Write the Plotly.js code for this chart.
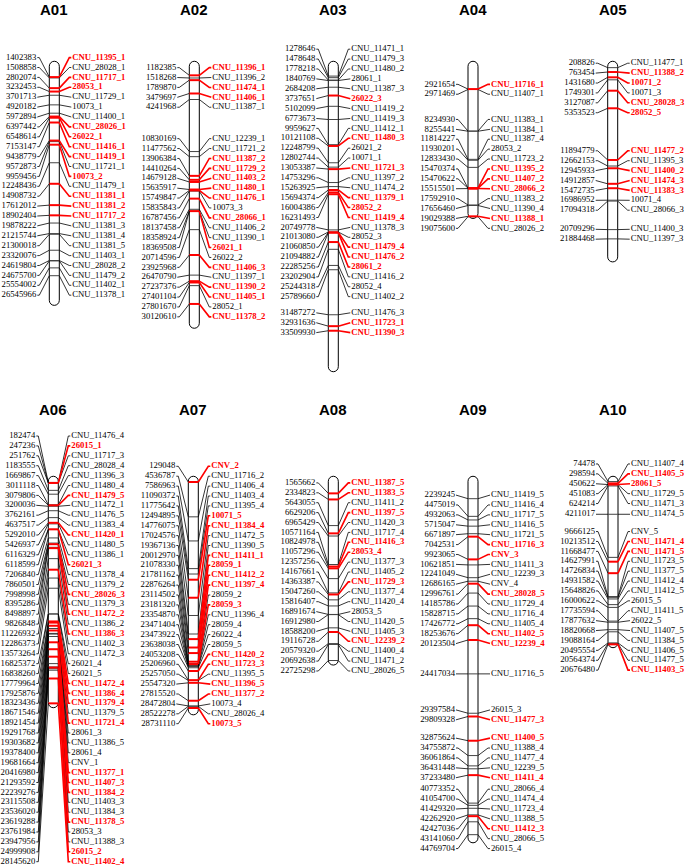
<!DOCTYPE html>
<html><head><meta charset="utf-8">
<script src="https://cdn.plot.ly/plotly-3.0.1.min.js"></script>
<style>html,body{margin:0;padding:0;background:#fff}</style>
</head><body><div id="chart" style="width:685px;height:866px"></div>
<script>
// ---------------- DATA ----------------
const chromNames = ['A01','A02','A03','A04','A05','A06','A07','A08','A09','A10'];
const chromLength = [30.3, 33.2, 38.7, 19.3, 24.8, 28.7, 29.6, 23.3, 45.8, 21.1]; // Mb (estimated)

const A01_pos = [1402383,1508858,2802074,3232453,3701713,4920182,5972894,6397442,6548614,7153147,9438779,9572873,9959456,12248436,14908732,17612012,18902404,19878222,21215744,21300018,23320076,24619804,24675700,25554002,26545966];
const A01_loci = ['CNU_11395_1','CNU_28028_1','CNU_11717_1','28053_1','CNU_11729_1','10073_1','CNU_11400_1','CNU_28026_1','26022_1','CNU_11416_1','CNU_11419_1','CNU_11721_1','10073_2','CNU_11479_1','CNU_11381_1','CNU_11381_2','CNU_11717_2','CNU_11381_3','CNU_11381_4','CNU_11381_5','CNU_11403_1','CNU_28028_2','CNU_11479_2','CNU_11402_1','CNU_11378_1'];
const A01_red = [1,0,1,1,0,0,0,1,1,1,1,0,1,0,1,1,1,0,0,0,0,0,0,0,0];

const A02_pos = [1182385,1518268,1789870,3479697,4241968,10830169,11477562,13906384,14410264,14679128,15635917,15749847,15835843,16787456,18137458,18358924,18369508,20714596,23925968,26470790,27237376,27401104,27801670,30120610];
const A02_loci = ['CNU_11396_1','CNU_11396_2','CNU_11474_1','CNU_11406_1','CNU_11387_1','CNU_12239_1','CNU_11721_2','CNU_11387_2','CNU_11729_2','CNU_11403_2','CNU_11480_1','CNU_11476_1','10073_3','CNU_28066_1','CNU_11406_2','CNU_11390_1','26021_1','26022_2','CNU_11406_3','CNU_11397_1','CNU_11390_2','CNU_11405_1','28052_1','CNU_11378_2'];
const A02_red = [1,0,1,1,0,0,0,1,1,1,1,1,0,1,0,0,1,0,1,0,1,1,0,1];

const A03_pos = [1278646,1478648,1778218,1840769,2684208,3737651,5102099,6773673,9959627,10121108,12248799,12802744,13053387,14753296,15263925,15694374,16004386,16231493,20749778,21013080,21060850,21094882,22285256,23202904,25244318,25789660,31487272,32931636,33509930];
const A03_loci = ['CNU_11471_1','CNU_11479_3','CNU_11480_2','28061_1','CNU_11387_3','26022_3','CNU_11419_2','CNU_11419_3','CNU_11412_1','CNU_11480_3','26021_2','10071_1','CNU_11721_3','CNU_11397_2','CNU_11474_2','CNU_11379_1','28052_2','CNU_11419_4','CNU_11378_3','28052_3','CNU_11479_4','CNU_11476_2','28061_2','CNU_11416_2','28052_4','CNU_11402_2','CNU_11476_3','CNU_11723_1','CNU_11390_3'];
const A03_red = [0,0,0,0,0,1,0,0,0,1,0,0,1,0,0,1,1,1,0,0,1,1,1,0,0,0,0,1,1];

const A04_pos = [2921654,2971469,8234930,8255441,11814227,11930201,12833430,15470374,15470622,15515501,17592910,17656460,19029388,19075600];
const A04_loci = ['CNU_11716_1','CNU_11407_1','CNU_11383_1','CNU_11384_1','CNU_11387_4','28053_2','CNU_11723_2','CNU_11395_2','CNU_11407_2','CNU_28066_2','CNU_11383_2','CNU_11390_4','CNU_11388_1','CNU_28026_2'];
const A04_red = [1,0,0,0,0,0,0,1,1,1,0,0,1,0];

const A05_pos = [208826,763454,1431680,1749301,3127087,5353523,11894779,12662153,12945933,14912857,15472735,16986952,17094318,20709296,21884468];
const A05_loci = ['CNU_11477_1','CNU_11388_2','10071_2','10071_3','CNU_28028_3','28052_5','CNU_11477_2','CNU_11395_3','CNU_11400_2','CNU_11474_3','CNU_11383_3','10071_4','CNU_28066_3','CNU_11400_3','CNU_11397_3'];
const A05_red = [0,1,1,0,1,1,1,0,1,1,1,0,0,0,0];

const A06_pos = [182474,247236,251762,1183555,1669867,3011118,3079806,3200036,3762161,4637517,5292010,5426937,6116329,6118599,7206840,7860501,7998998,8395286,8498897,9826848,11226932,12286373,13573264,16825372,16838260,17779964,17925876,18323436,18671546,18921454,19291768,19303682,19378400,19681664,20416980,21293592,22239276,23115508,23536020,23619288,23761984,23947956,24999908,28145620];
const A06_loci = ['CNU_11476_4','26015_1','CNU_11717_3','CNU_28028_4','CNU_11396_3','CNU_11480_4','CNU_11479_5','CNU_11472_1','CNU_11476_5','CNU_11383_4','CNU_11420_1','CNU_11480_5','CNU_11386_1','26021_3','CNU_11378_4','CNU_11379_2','CNU_28026_3','CNU_11379_3','CNU_11472_2','CNU_11386_2','CNU_11386_3','CNU_11402_3','CNU_11472_3','26021_4','26021_5','CNU_11472_4','CNU_11386_4','CNU_11379_4','CNU_11379_5','CNU_11721_4','28061_3','CNU_11386_5','28061_4','CNV_1','CNU_11377_1','CNU_11407_3','CNU_11384_2','CNU_11403_3','CNU_11384_3','CNU_11378_5','28053_3','CNU_11388_3','26015_2','CNU_11402_4'];
const A06_red = [0,1,0,0,0,0,1,0,0,0,1,0,0,1,0,0,1,0,1,0,1,0,0,0,0,1,1,1,0,1,0,0,0,0,1,1,1,0,0,1,0,0,1,1];

const A07_pos = [129048,4536787,7586963,11090372,11775642,12494895,14776075,17024576,19367136,20012970,21078330,21781162,22876264,23114502,23181320,23354870,23471404,23473922,23638038,24053208,25206960,25257050,25547320,27815520,28472804,28522278,28731110];
const A07_loci = ['CNV_2','CNU_11716_2','CNU_11406_4','CNU_11403_4','CNU_11395_4','10071_5','CNU_11384_4','CNU_11472_5','CNU_11390_5','CNU_11411_1','28059_1','CNU_11412_2','CNU_11397_4','28059_2','28059_3','CNU_11396_4','28059_4','26022_4','28059_5','CNU_11420_2','CNU_11723_3','CNU_11395_5','CNU_11396_5','CNU_11377_2','10073_4','CNU_28026_4','10073_5'];
const A07_red = [1,0,0,0,0,1,1,0,0,1,1,1,1,0,1,0,0,0,0,1,1,0,1,1,0,0,1];

const A08_pos = [1565662,2334823,5643055,6629206,6965429,10571164,10824978,11057296,12357256,14167661,14363387,15047260,15816407,16891674,16912980,18588200,19116728,20579320,20692638,22725298];
const A08_loci = ['CNU_11387_5','CNU_11383_5','CNU_11411_2','CNU_11397_5','CNU_11420_3','CNU_11717_4','CNU_11416_3','28053_4','CNU_11377_3','CNU_11405_2','CNU_11729_3','CNU_11377_4','CNU_11420_4','28053_5','CNU_11420_5','CNU_11405_3','CNU_12239_2','CNU_11400_4','CNU_11471_2','CNU_28026_5'];
const A08_red = [1,1,0,1,0,0,1,1,0,0,1,0,0,0,0,0,1,0,0,0];

const A09_pos = [2239245,4475019,4932063,5715047,6671897,7042531,9923065,10621851,12241049,12686165,12996761,14185786,15828715,17426772,18253676,20123504,24417034,29397584,29809328,32875624,34755872,36061864,36431448,37233480,40773352,41054700,41429320,42262920,42427036,43141060,44769704];
const A09_loci = ['CNU_11419_5','CNU_11416_4','CNU_11717_5','CNU_11416_5','CNU_11721_5','CNU_11716_3','CNV_3','CNU_11411_3','CNU_12239_3','CNV_4','CNU_28028_5','CNU_11729_4','CNU_11716_4','CNU_11405_4','CNU_11402_5','CNU_12239_4','CNU_11716_5','26015_3','CNU_11477_3','CNU_11400_5','CNU_11388_4','CNU_11477_4','CNU_12239_5','CNU_11411_4','CNU_28066_4','CNU_11474_4','CNU_11723_4','CNU_11388_5','CNU_11412_3','CNU_28066_5','26015_4'];
const A09_red = [0,0,0,0,0,1,1,0,0,0,1,0,0,0,1,1,0,0,1,1,0,0,0,1,0,0,0,0,1,0,0];

const A10_pos = [74478,298594,450622,451083,624214,4211017,9666125,10213512,11668477,14627991,14726834,14931582,15648826,16000622,17735594,17877632,18820668,19088164,20495554,20564374,20676480];
const A10_loci = ['CNU_11407_4','CNU_11405_5','28061_5','CNU_11729_5','CNU_11471_3','CNU_11474_5','CNV_5','CNU_11471_4','CNU_11471_5','CNU_11723_5','CNU_11377_5','CNU_11412_4','CNU_11412_5','26015_5','CNU_11411_5','26022_5','CNU_11407_5','CNU_11384_5','CNU_11406_5','CNU_11477_5','CNU_11403_5'];
const A10_red = [0,1,1,0,0,0,0,1,1,0,0,0,0,0,0,0,0,0,0,0,1];

// ---------------- LAYOUT / STYLE ----------------
const W = 685, H = 866;
const S = 7.9;            // px per Mb
const SP = 9.9;           // label spacing, px
const centerX = [54.3, 194.3, 333.3, 473, 612.7, 53.3, 193.3, 333.3, 473, 613];
const zeroY = [66, 481];   // px of 0 Mb per row
const labelMinTop = [20, 436];
const titleTop = [0, 400]; // px, top of title box
const HW = 5;             // chromosome half width px
const RED = '#ff0000';
const serif = 'Liberation Serif, Times New Roman, serif';

const chroms = [
  [A01_pos, A01_loci, A01_red], [A02_pos, A02_loci, A02_red], [A03_pos, A03_loci, A03_red],
  [A04_pos, A04_loci, A04_red], [A05_pos, A05_loci, A05_red], [A06_pos, A06_loci, A06_red],
  [A07_pos, A07_loci, A07_red], [A08_pos, A08_loci, A08_red], [A09_pos, A09_loci, A09_red],
  [A10_pos, A10_loci, A10_red]
];

function layoutLabels(desired, s, minTop) {
  let cl = desired.map(d => ({lo: d, hi: d, n: 1}));
  const top = c => Math.max(minTop, (c.lo + c.hi) / 2 - (c.n - 1) * s / 2);
  let merged = true;
  while (merged) {
    merged = false;
    for (let i = 0; i < cl.length - 1; i++) {
      const a = cl[i], b = cl[i + 1];
      if (top(b) < top(a) + a.n * s - 0.01) {
        cl.splice(i, 2, {lo: a.lo, hi: b.hi, n: a.n + b.n});
        merged = true; break;
      }
    }
  }
  const out = [];
  cl.forEach(c => { const t = top(c); for (let k = 0; k < c.n; k++) out.push(t + k * s); });
  return out;
}

const layout = {
  width: W, height: H, margin: {l: 0, r: 0, t: 0, b: 0},
  paper_bgcolor: '#ffffff', plot_bgcolor: 'rgba(0,0,0,0)',
  showlegend: false, shapes: [], annotations: [], hovermode: false
};
const traces = [];

chroms.forEach((ch, i) => {
  const [pos, loci, red] = ch;
  const k = i === 0 ? '' : String(i + 1);
  const row = i < 5 ? 0 : 1;
  const cx = centerX[i], z = zeroY[row];
  layout['xaxis' + k] = {domain: [0, 1], range: [-cx, W - cx], visible: false, fixedrange: true, anchor: 'y' + k};
  layout['yaxis' + k] = {domain: [0, 1], range: [(H - z) / S, -z / S], visible: false, fixedrange: true, anchor: 'x' + k};
  const xa = 'x' + k, ya = 'y' + k;

  const mb = pos.map(p => p / 1e6);
  const labPx = layoutLabels(mb.map(m => z + m * S), SP, labelMinTop[row]);
  const lab = labPx.map(p => (p - z) / S);

  // chromosome body
  const t = -0.6, b = chromLength[i], r = HW / S, kk = 0.5523;
  const path = `M ${-HW},${t + r} C ${-HW},${t + r * (1 - kk)} ${-HW * kk},${t} 0,${t} C ${HW * kk},${t} ${HW},${t + r * (1 - kk)} ${HW},${t + r} L ${HW},${b - r} C ${HW},${b - r * (1 - kk)} ${HW * kk},${b} 0,${b} C ${-HW * kk},${b} ${-HW},${b - r * (1 - kk)} ${-HW},${b - r} Z`;
  layout.shapes.push({type: 'path', xref: xa, yref: ya, path: path, layer: 'below',
    line: {color: '#000', width: 1}, fillcolor: '#fff'});

  const seg = (sel, f) => { const X = [], Y = []; mb.forEach((m, j) => { if (sel(j)) { const s = f(m, lab[j]); X.push(...s[0], null); Y.push(...s[1], null); } }); return [X, Y]; };
  const isR = j => red[j] === 1, notR = j => red[j] !== 1, all = () => true;

  // marker lines across chromosome
  let [X, Y] = seg(notR, m => [[-HW, HW], [m, m]]);
  traces.push({type: 'scatter', mode: 'lines', xaxis: xa, yaxis: ya, x: X, y: Y, line: {color: '#444', width: 1}, hoverinfo: 'skip'});
  [X, Y] = seg(isR, m => [[-HW, HW], [m, m]]);
  traces.push({type: 'scatter', mode: 'lines', xaxis: xa, yaxis: ya, x: X, y: Y, line: {color: RED, width: 2}, hoverinfo: 'skip'});
  // left connectors
  [X, Y] = seg(all, (m, l) => [[-HW, -15, -17], [m, l, l]]);
  traces.push({type: 'scatter', mode: 'lines', xaxis: xa, yaxis: ya, x: X, y: Y, line: {color: '#000', width: 0.8}, hoverinfo: 'skip'});
  // right connectors
  [X, Y] = seg(notR, (m, l) => [[HW, 15, 17], [m, l, l]]);
  traces.push({type: 'scatter', mode: 'lines', xaxis: xa, yaxis: ya, x: X, y: Y, line: {color: '#000', width: 0.8}, hoverinfo: 'skip'});
  [X, Y] = seg(isR, (m, l) => [[HW, 15, 17], [m, l, l]]);
  traces.push({type: 'scatter', mode: 'lines', xaxis: xa, yaxis: ya, x: X, y: Y, line: {color: RED, width: 1.6}, hoverinfo: 'skip'});

  // left labels (positions)
  traces.push({type: 'scatter', mode: 'text', xaxis: xa, yaxis: ya,
    x: lab.map(() => -18), y: lab, text: pos.map(p => String(p)), textposition: 'middle left',
    textfont: {family: serif, size: 8.7, color: '#000'}, hoverinfo: 'skip', cliponaxis: false});
  // right labels
  const idxB = [], idxR = [];
  red.forEach((v, j) => (v === 1 ? idxR : idxB).push(j));
  traces.push({type: 'scatter', mode: 'text', xaxis: xa, yaxis: ya,
    x: idxB.map(() => 18), y: idxB.map(j => lab[j]), text: idxB.map(j => loci[j]), textposition: 'middle right',
    textfont: {family: serif, size: 8.7, color: '#000'}, hoverinfo: 'skip', cliponaxis: false});
  traces.push({type: 'scatter', mode: 'text', xaxis: xa, yaxis: ya,
    x: idxR.map(() => 18), y: idxR.map(j => lab[j]), text: idxR.map(j => loci[j]), textposition: 'middle right',
    textfont: {family: serif, size: 8.7, color: RED, weight: 'bold'}, hoverinfo: 'skip', cliponaxis: false});

  layout.annotations.push({xref: 'paper', yref: 'paper', x: cx / W, y: 1 - titleTop[row] / H,
    xanchor: 'center', yanchor: 'top', showarrow: false, borderpad: 0, text: chromNames[i],
    font: {family: 'Liberation Sans, Arial, sans-serif', size: 15, color: '#000', weight: 'bold'}});
});

Plotly.newPlot('chart', traces, layout, {staticPlot: true, displayModeBar: false});
</script>
</body></html>
